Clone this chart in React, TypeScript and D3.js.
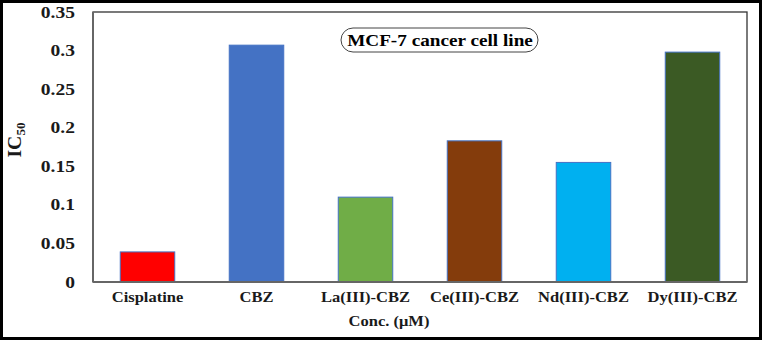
import React, { useEffect, useRef } from 'react'
import * as d3 from 'd3'

// IC50 values, MCF-7 cancer cell line
const categories = ['Cisplatine', 'CBZ', 'La(III)-CBZ', 'Ce(III)-CBZ', 'Nd(III)-CBZ', 'Dy(III)-CBZ']
const ic50 = [0.039, 0.307, 0.11, 0.183, 0.155, 0.298]
const barColors = ['#ff0000', '#4472c4', '#70ad47', '#843c0c', '#00b0f0', '#3b5a24']
const yTicks = [0, 0.05, 0.1, 0.15, 0.2, 0.25, 0.3, 0.35]

const App = () => {
  const refSvg = useRef<SVGSVGElement>(null)

  useEffect(() => {
    const W = 762
    const H = 340
    const m = { top: 12, right: 15, bottom: 58, left: 93 }
    const svg = d3.select(refSvg.current)
    svg.selectAll('*').remove()

    const font = "'Liberation Serif', 'Times New Roman', serif"

    // the original text is a bit stretched sideways
    const label = (x: number, y: number, txt: string, size: number, sx: number, anchor = 'middle') =>
      svg.append('text')
        .attr('transform', `translate(${x},${y}) scale(${sx},1)`)
        .attr('text-anchor', anchor)
        .style('font-family', font)
        .attr('font-weight', 'bold')
        .attr('font-size', size)
        .attr('fill', '#1a1a1a')
        .text(txt)

    // outer frame
    svg.append('rect').attr('x', 1.5).attr('y', 1.5).attr('width', W - 3).attr('height', H - 3)
      .attr('fill', '#fff').attr('stroke', '#000').attr('stroke-width', 3)

    const x = d3.scaleBand().domain(categories).range([m.left, W - m.right])
      .paddingInner(0.5).paddingOuter(0.25)
    const y = d3.scaleLinear().domain([0, 0.35]).range([H - m.bottom, m.top])

    // plot area border
    svg.append('rect').attr('x', m.left).attr('y', m.top)
      .attr('width', W - m.right - m.left).attr('height', H - m.bottom - m.top)
      .attr('fill', 'none').attr('stroke', '#333').attr('stroke-width', 1.3)

    svg.selectAll('.bar')
      .data(categories)
      .enter()
      .append('rect')
      .attr('class', 'bar')
      .attr('x', (d) => x(d) || 0)
      .attr('width', x.bandwidth())
      .attr('y', (d, i) => y(ic50[i]))
      .attr('height', (d, i) => y(0) - y(ic50[i]))
      .attr('fill', (d, i) => barColors[i])
      .attr('stroke', '#4472c4')
      .attr('stroke-width', 1)

    // axes lines
    svg.append('line').attr('x1', m.left).attr('x2', m.left).attr('y1', m.top).attr('y2', y(0))
      .attr('stroke', '#666').attr('stroke-width', 2)
    svg.append('line').attr('x1', m.left).attr('x2', W - m.right).attr('y1', y(0)).attr('y2', y(0))
      .attr('stroke', '#666').attr('stroke-width', 2)

    // y tick labels
    yTicks.forEach((t) => label(75, y(t) + 5.5, String(t), 16, 1.22, 'end'))

    // x tick labels
    categories.forEach((c) => label((x(c) || 0) + x.bandwidth() / 2, 302, c, 14, 1.18))

    // x axis title
    label(389, 326, 'Conc. (μM)', 14, 1.18)

    // y axis title
    const yt = svg.append('text').attr('transform', 'translate(21,140) rotate(-90) scale(1.1,1)')
      .attr('text-anchor', 'middle').style('font-family', font).attr('font-weight', 'bold')
      .attr('font-size', 18).attr('fill', '#1a1a1a')
    yt.append('tspan').text('IC')
    yt.append('tspan').attr('font-size', 12).attr('dy', 4).text('50')

    // chart title box
    svg.append('rect').attr('x', 341).attr('y', 28).attr('width', 197).attr('height', 24)
      .attr('rx', 12).attr('ry', 12).attr('fill', '#fff').attr('stroke', '#444').attr('stroke-width', 1)
    label(440, 46, 'MCF-7 cancer cell line', 17, 1.13).attr('fill', '#000')
  })

  return <svg ref={refSvg} width={762} height={340} style={{ position: 'absolute', left: 0, top: 0 }} />
}

export default App
